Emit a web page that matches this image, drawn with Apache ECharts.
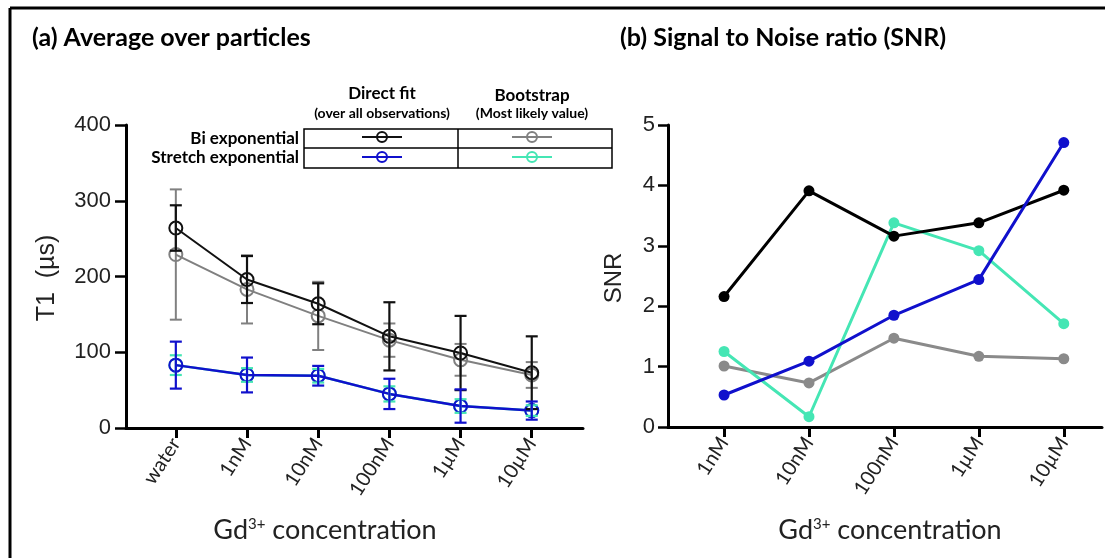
<!DOCTYPE html>
<html><head><meta charset="utf-8">
<script src="https://cdn.jsdelivr.net/npm/echarts@6/dist/echarts.min.js"></script>
<style>html,body{margin:0;padding:0;background:#fff}#c{width:1105px;height:558px}</style>
</head><body><div id="c"></div>
<script>
const t1Categories = ['water', '1nM', '10nM', '100nM', '1\u00b5M', '10\u00b5M'];
const snrCategories = ['1nM', '10nM', '100nM', '1\u00b5M', '10\u00b5M'];
const t1Ticks = [0, 100, 200, 300, 400];
const snrTicks = [0, 1, 2, 3, 4, 5];
// T1 (µs), mean and half error bar
const biDirect = [264, 196, 164, 121, 99, 73];
const biDirectErr = [30, 31, 27, 45, 49, 48];
const biBoot = [229, 183, 148, 116, 90, 70];
const biBootErr = [86, 45, 45, 22, 21, 17];
const stDirect = [83, 70, 69, 45, 29, 23];
const stDirectErr = [31, 23, 13, 20, 22, 12];
const stBoot = [83, 70, 69, 45, 29, 23];
const stBootErr = [13, 9, 9, 10, 9, 7];
// SNR
const snrBi = [2.16, 3.91, 3.16, 3.38, 3.92];
const snrBiBoot = [1.01, 0.73, 1.47, 1.17, 1.13];
const snrSt = [0.53, 1.09, 1.85, 2.44, 4.71];
const snrStBoot = [1.25, 0.17, 3.38, 2.92, 1.71];

const C_BLACK = '#111111', C_GREY = '#808080', C_BLUE = '#1010cc', C_CYAN = '#45e6b4';
const ARIAL = 'Liberation Sans', CAL = 'Lato';

const idx = a => a.map((_, i) => i);

function errSeries(vals, errs, color, width, z) {
  return {
    type: 'custom', xAxisIndex: 0, yAxisIndex: 0, z: z, silent: true,
    encode: { x: 0, y: [1, 2] },
    data: vals.map((v, i) => [i, v - errs[i], v + errs[i]]),
    renderItem: function (params, api) {
      const x = api.value(0);
      const lo = api.coord([x, api.value(1)]);
      const hi = api.coord([x, api.value(2)]);
      const h = 6;
      const st = { stroke: color, lineWidth: width };
      return { type: 'group', children: [
        { type: 'line', shape: { x1: lo[0], y1: lo[1], x2: hi[0], y2: hi[1] }, style: st },
        { type: 'line', shape: { x1: lo[0] - h, y1: lo[1], x2: lo[0] + h, y2: lo[1] }, style: st },
        { type: 'line', shape: { x1: hi[0] - h, y1: hi[1], x2: hi[0] + h, y2: hi[1] }, style: st }
      ]};
    }
  };
}
function t1Line(vals, color, width, z) {
  return {
    type: 'line', xAxisIndex: 0, yAxisIndex: 0, z: z, silent: true,
    data: vals.map((v, i) => [i, v]),
    symbol: 'circle', symbolSize: 13,
    itemStyle: { color: 'rgba(0,0,0,0)', borderColor: color, borderWidth: 2 },
    lineStyle: { color: color, width: width }
  };
}
function snrLine(vals, color, z) {
  return {
    type: 'line', xAxisIndex: 1, yAxisIndex: 1, z: z, silent: true,
    data: vals.map((v, i) => [i, v]),
    symbol: 'circle', symbolSize: 11,
    itemStyle: { color: color },
    lineStyle: { color: color, width: 3 }
  };
}

const axisLineStyle = { show: true, onZero: false, lineStyle: { color: '#000', width: 3 } };

function legendSym(cx, cy, color) {
  return [
    { type: 'line', shape: { x1: cx - 20, y1: cy, x2: cx + 20, y2: cy }, style: { stroke: color, lineWidth: 2 } },
    { type: 'circle', shape: { cx: cx, cy: cy, r: 5 }, style: { fill: 'rgba(0,0,0,0)', stroke: color, lineWidth: 2 } }
  ];
}

const option = {
  animation: false,
  backgroundColor: '#fff',
  grid: [
    { left: 126, right: 522, top: 125, bottom: 130 },
    { left: 668, right: 3, top: 125, bottom: 131 }
  ],
  xAxis: [
    {
      type: 'value', gridIndex: 0, min: -0.7, max: 5.72,
      axisLine: axisLineStyle,
      axisTick: { show: true, customValues: idx(t1Categories), length: 10, lineStyle: { color: '#000', width: 3 } },
      axisLabel: { customValues: idx(t1Categories), formatter: v => t1Categories[Math.round(v)],
        rotate: 57, fontSize: 20, fontFamily: CAL, color: '#222', margin: 12 },
      splitLine: { show: false }
    },
    {
      type: 'value', gridIndex: 1, min: -0.66, max: 4.45,
      axisLine: axisLineStyle,
      axisTick: { show: true, customValues: idx(snrCategories), length: 10, lineStyle: { color: '#000', width: 3 } },
      axisLabel: { customValues: idx(snrCategories), formatter: v => snrCategories[Math.round(v)],
        rotate: 57, fontSize: 20, fontFamily: CAL, color: '#222', margin: 12 },
      splitLine: { show: false }
    }
  ],
  yAxis: [
    {
      type: 'value', gridIndex: 0, min: t1Ticks[0], max: t1Ticks[t1Ticks.length - 1], interval: 100,
      axisLine: axisLineStyle,
      axisTick: { show: true, length: 11, lineStyle: { color: '#000', width: 2.5 } },
      axisLabel: { fontSize: 22, fontFamily: ARIAL, color: '#222', margin: 15 },
      splitLine: { show: false }
    },
    {
      type: 'value', gridIndex: 1, min: snrTicks[0], max: snrTicks[snrTicks.length - 1], interval: 1,
      axisLine: axisLineStyle,
      axisTick: { show: true, length: 10, lineStyle: { color: '#000', width: 2.5 } },
      axisLabel: { fontSize: 22, fontFamily: ARIAL, color: '#222', margin: 13 },
      splitLine: { show: false }
    }
  ],
  series: [
    t1Line(biBoot, C_GREY, 2, 2),
    t1Line(biDirect, C_BLACK, 2, 3),
    t1Line(stBoot, C_CYAN, 2.5, 4),
    t1Line(stDirect, C_BLUE, 2.5, 5),
    errSeries(biBoot, biBootErr, C_GREY, 2, 6),
    errSeries(biDirect, biDirectErr, C_BLACK, 2.2, 7),
    errSeries(stBoot, stBootErr, C_CYAN, 2.2, 8),
    errSeries(stDirect, stDirectErr, C_BLUE, 2.2, 9),
    snrLine(snrBiBoot, '#8a8a8a', 2),
    snrLine(snrStBoot, C_CYAN, 3),
    snrLine(snrBi, '#000', 4),
    snrLine(snrSt, C_BLUE, 5)
  ],
  graphic: [
    // frame
    { type: 'line', shape: { x1: 10, y1: 8, x2: 10, y2: 558 }, style: { stroke: '#000', lineWidth: 3 } },
    { type: 'line', shape: { x1: 10, y1: 8, x2: 1105, y2: 8 }, style: { stroke: '#000', lineWidth: 3 } },
    // titles
    { type: 'text', x: 32, y: 38, style: { text: '(a) Average over particles', font: 'bold 25px Lato', fill: '#000', textVerticalAlign: 'middle' } },
    { type: 'text', x: 620, y: 38, style: { text: '(b) Signal to Noise ratio (SNR)', font: 'bold 25px Lato', fill: '#000', textVerticalAlign: 'middle' } },
    // axis names
    { type: 'text', x: 47, y: 278, rotation: Math.PI / 2, style: { text: 'T1  (\u00b5s)', font: '25px "Liberation Sans"', fill: '#222', textAlign: 'center', textVerticalAlign: 'middle' } },
    { type: 'text', x: 614, y: 278, rotation: Math.PI / 2, style: { text: 'SNR', font: '24px "Liberation Sans"', fill: '#222', textAlign: 'center', textVerticalAlign: 'middle' } },
    { type: 'text', x: 325, y: 530, style: { text: 'Gd{s|3+} concentration', fill: '#222', textAlign: 'center', textVerticalAlign: 'middle',
        font: '27px Lato', rich: { s: { fontSize: 15, fontFamily: 'Lato', verticalAlign: 'top', fill: '#222' } } } },
    { type: 'text', x: 890, y: 530, style: { text: 'Gd{s|3+} concentration', fill: '#222', textAlign: 'center', textVerticalAlign: 'middle',
        font: '27px Lato', rich: { s: { fontSize: 15, fontFamily: 'Lato', verticalAlign: 'top', fill: '#222' } } } },
    // legend table
    { type: 'text', x: 382, y: 94, style: { text: 'Direct fit', font: 'bold 17px Lato', fill: '#000', textAlign: 'center', textVerticalAlign: 'middle' } },
    { type: 'text', x: 382, y: 113, style: { text: '(over all observations)', font: 'bold 14px Lato', fill: '#000', textAlign: 'center', textVerticalAlign: 'middle' } },
    { type: 'text', x: 532, y: 96, style: { text: 'Bootstrap', font: 'bold 17px Lato', fill: '#000', textAlign: 'center', textVerticalAlign: 'middle' } },
    { type: 'text', x: 532, y: 113, style: { text: '(Most likely value)', font: 'bold 14px Lato', fill: '#000', textAlign: 'center', textVerticalAlign: 'middle' } },
    { type: 'text', x: 299, y: 139, style: { text: 'Bi exponential', font: 'bold 17px Lato', fill: '#000', textAlign: 'right', textVerticalAlign: 'middle' } },
    { type: 'text', x: 299, y: 158, style: { text: 'Stretch exponential', font: 'bold 17px Lato', fill: '#000', textAlign: 'right', textVerticalAlign: 'middle' } },
    { type: 'rect', shape: { x: 304, y: 129, width: 308, height: 39 }, style: { fill: 'none', stroke: '#000', lineWidth: 1.5 } },
    { type: 'line', shape: { x1: 304, y1: 148, x2: 612, y2: 148 }, style: { stroke: '#000', lineWidth: 1.5 } },
    { type: 'line', shape: { x1: 458, y1: 129, x2: 458, y2: 168 }, style: { stroke: '#000', lineWidth: 1.5 } }
  ].concat(legendSym(382, 137, C_BLACK), legendSym(532, 137, C_GREY), legendSym(382, 157, C_BLUE), legendSym(532, 157, C_CYAN))
};

const chart = echarts.init(document.getElementById('c'), null, { renderer: 'canvas' });
chart.setOption(option);
</script>
</body></html>
